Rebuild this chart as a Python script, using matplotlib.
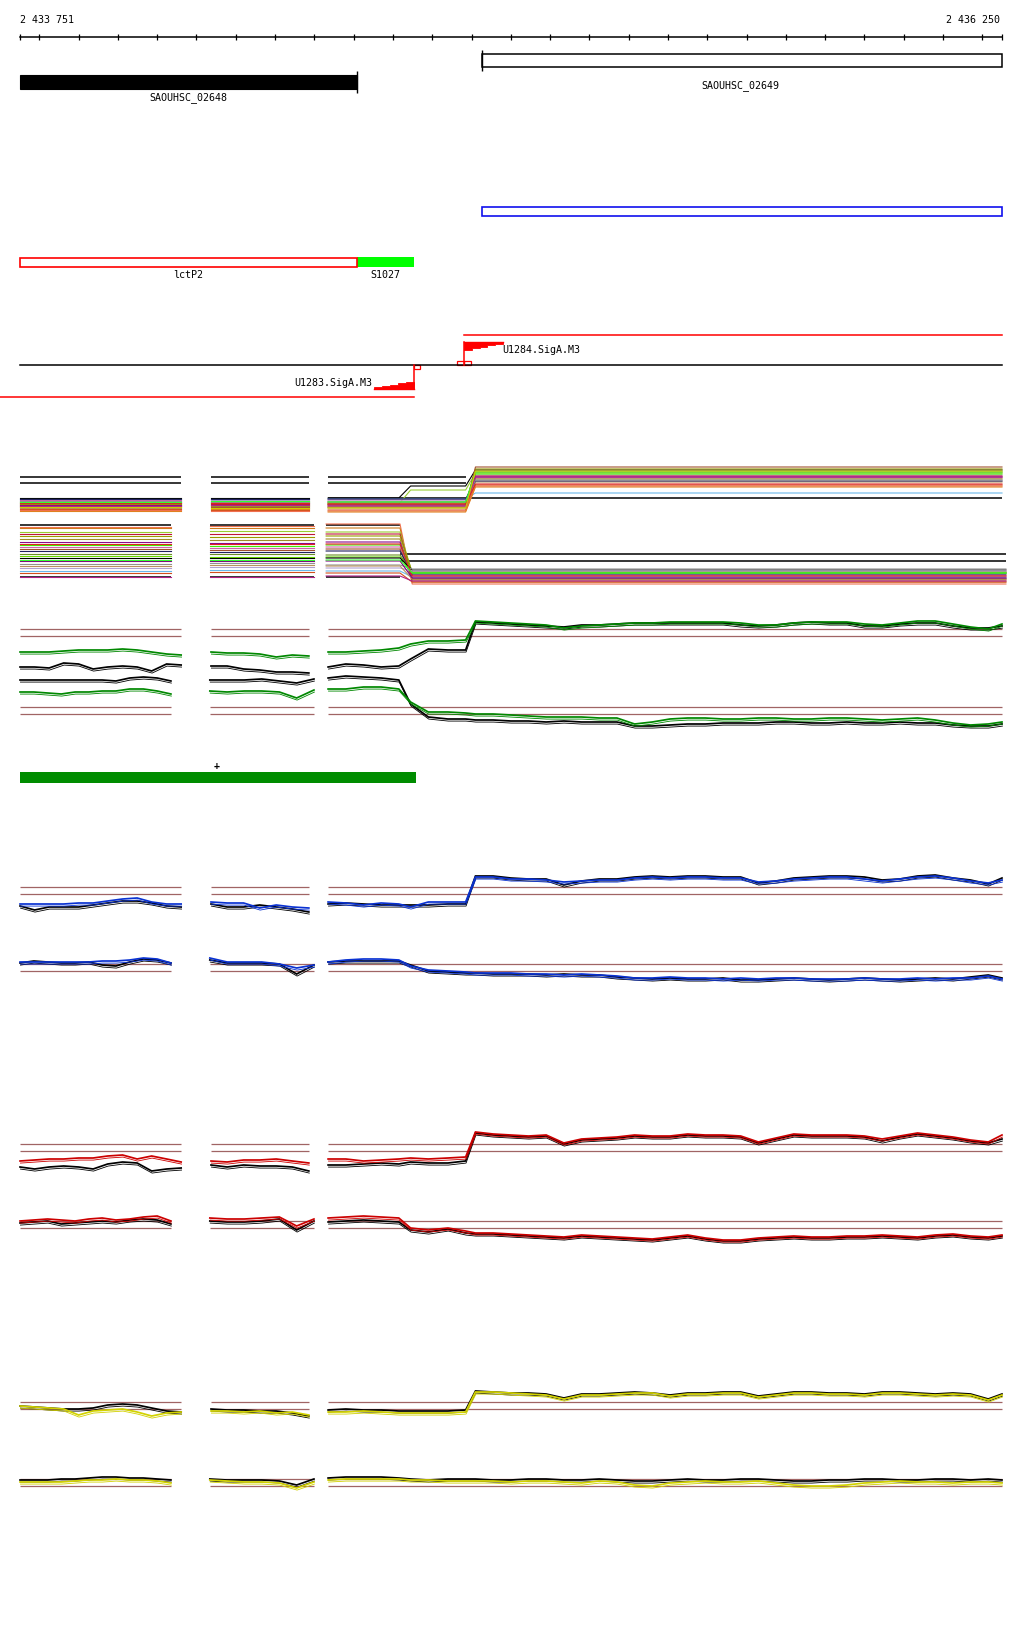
import numpy as np
import matplotlib
matplotlib.use("Agg")
import matplotlib.pyplot as plt
from matplotlib.patches import Rectangle, Polygon
import matplotlib.patheffects as pe

# ---------------------------------------------------------------- window
VIEW_START, VIEW_END = 2433751, 2436250
X_LEFT, X_RIGHT = 2433700, 2436306
TICK_STEP = 100

# ---------------------------------------------------------------- annotation
GENE_NAMES = ["SAOUHSC_02648", "SAOUHSC_02649"]
GENE_START = [2433751, 2434927]
GENE_END = [2434608, 2436250]
BLUE_FEATURE = (2434927, 2436250)
TRANSCRIPT_NAMES = ["lctP2", "S1027"]
TRANSCRIPT_START = [2433751, 2434608]
TRANSCRIPT_END = [2434608, 2434754]
PROMOTER_NAMES = ["U1283.SigA.M3", "U1284.SigA.M3"]
PROMOTER_POS = [2434754, 2434881]
PROMOTER_STRAND = [-1, 1]
SEGMENT_BAR = (2433751, 2434759)
SEGMENT_MARK = 2434250

# ---------------------------------------------------------------- probe positions
POS_A_UP = [2433751, 2433788, 2433825, 2433862, 2433900, 2433937, 2433974,
            2434012, 2434049, 2434086, 2434124, 2434161]
POS_A_DN = [2433751, 2433786, 2433821, 2433856, 2433891, 2433926, 2433960,
            2433995, 2434030, 2434065, 2434100, 2434135]
POS_B_UP = [2434237, 2434278, 2434320, 2434361, 2434403, 2434444, 2434486]
POS_B_DN = [2434234, 2434278, 2434322, 2434366, 2434411, 2434455, 2434499]
POS_C = [2434535, 2434580, 2434625, 2434670, 2434715, 2434745, 2434790,
         2434840, 2434885, 2434910, 2434955, 2435000, 2435045, 2435090,
         2435135, 2435180, 2435225, 2435270, 2435315, 2435360, 2435405,
         2435450, 2435495, 2435540, 2435585, 2435630, 2435675, 2435720,
         2435765, 2435810, 2435855, 2435900, 2435945, 2435990, 2436035,
         2436080, 2436125, 2436170, 2436215, 2436250]

# ---------------------------------------------------------------- condition tracks
# (segment A, segment B, segment C) per series
g_up_black = ([12, 12, 11, 16, 15, 10, 12, 13, 12, 8, 15, 14],
              [13, 13, 10, 9, 7, 7, 6],
              [12, 15, 14, 12, 13, 20, 30, 29, 29, 57, 56, 55, 54, 53, 52, 54, 54, 55, 56, 56,
               56, 56, 56, 56, 54, 53, 54, 56, 57, 56, 56, 53, 53, 55, 56, 56, 53, 51, 51, 53])
g_up_green = ([27, 27, 27, 28, 29, 29, 29, 30, 29, 27, 25, 24],
              [27, 26, 26, 25, 22, 24, 23],
              [27, 27, 28, 29, 31, 35, 38, 38, 39, 58, 57, 56, 55, 54, 51, 53, 54, 55, 56, 56,
               57, 57, 57, 57, 56, 54, 54, 56, 57, 57, 57, 55, 54, 56, 58, 58, 55, 52, 50, 55])
g_dn_black = ([64, 64, 64, 64, 64, 64, 64, 63, 66, 67, 66, 63],
              [64, 64, 64, 65, 63, 61, 65],
              [66, 68, 67, 66, 64, 40, 27, 25, 25, 24, 24, 23, 23, 22, 23, 22, 22, 22, 18, 18,
               19, 20, 20, 21, 21, 21, 22, 22, 21, 21, 22, 21, 21, 22, 21, 21, 19, 18, 18, 20])
g_dn_green = ([52, 52, 51, 50, 52, 52, 53, 53, 55, 55, 53, 50],
              [53, 52, 53, 53, 52, 46, 54],
              [55, 55, 57, 57, 55, 42, 32, 32, 31, 30, 30, 29, 28, 27, 27, 27, 26, 26, 20, 22,
               25, 26, 26, 25, 25, 26, 26, 25, 25, 26, 26, 25, 24, 25, 26, 24, 21, 19, 20, 22])
g_up_cut = [50, 43]
g_dn_cut = [37, 30]

b_up_black = ([28, 24, 27, 27, 27, 29, 31, 33, 33, 31, 28, 27],
              [30, 27, 27, 29, 27, 25, 22],
              [30, 31, 30, 29, 29, 29, 29, 30, 30, 58, 58, 56, 55, 55, 49, 53, 55, 55, 57, 58,
               57, 58, 58, 57, 57, 51, 53, 56, 57, 58, 58, 57, 54, 55, 58, 59, 56, 54, 50, 56])
b_up_blue = ([30, 30, 30, 30, 31, 31, 33, 35, 36, 32, 30, 30],
             [32, 31, 31, 26, 29, 27, 26],
             [32, 31, 29, 31, 30, 27, 32, 32, 32, 57, 57, 55, 55, 54, 52, 53, 54, 54, 56, 57,
              56, 57, 57, 56, 56, 52, 53, 55, 56, 57, 57, 55, 53, 55, 57, 58, 56, 53, 51, 54])
b_dn_black = ([36, 38, 37, 36, 36, 37, 34, 33, 37, 40, 39, 36],
              [39, 36, 36, 36, 35, 25, 34],
              [37, 38, 38, 38, 38, 34, 28, 27, 26, 26, 25, 25, 25, 24, 25, 24, 24, 22, 21, 20,
               21, 20, 20, 21, 19, 19, 20, 21, 20, 19, 20, 21, 20, 19, 20, 21, 20, 22, 24, 21])
b_dn_blue = ([37, 37, 37, 37, 37, 37, 38, 38, 39, 41, 40, 36],
             [41, 37, 37, 37, 35, 31, 34],
             [37, 39, 40, 40, 39, 33, 29, 28, 27, 26, 26, 26, 25, 25, 24, 25, 24, 23, 21, 21,
              22, 21, 21, 20, 21, 20, 21, 21, 20, 20, 20, 21, 20, 20, 21, 20, 21, 21, 23, 20])
b_up_cut = [47, 40]
b_dn_cut = [35, 28]

r_up_black = ([22, 20, 22, 23, 22, 20, 25, 27, 26, 18, 20, 21],
              [24, 22, 24, 23, 23, 22, 18],
              [24, 24, 25, 26, 25, 27, 26, 26, 28, 56, 54, 53, 52, 53, 45, 49, 50, 51, 53, 52,
               52, 54, 53, 53, 52, 46, 50, 54, 53, 53, 53, 52, 48, 52, 55, 53, 51, 48, 46, 50])
r_up_red = ([28, 29, 30, 30, 31, 31, 33, 34, 30, 33, 30, 27],
            [28, 27, 29, 29, 30, 28, 26],
            [30, 30, 28, 29, 30, 31, 30, 31, 32, 57, 55, 54, 53, 54, 46, 50, 51, 52, 54, 53,
             53, 55, 54, 54, 53, 47, 51, 55, 54, 54, 54, 53, 50, 53, 56, 54, 52, 49, 47, 54])
r_dn_black = ([31, 32, 33, 30, 31, 32, 33, 32, 34, 35, 34, 30],
              [33, 32, 32, 33, 35, 24, 33],
              [32, 33, 34, 33, 32, 24, 22, 25, 21, 20, 20, 19, 18, 17, 16, 18, 17, 16, 15, 14,
               16, 18, 15, 13, 13, 15, 16, 17, 16, 16, 17, 17, 18, 17, 16, 18, 19, 17, 16, 18])
r_dn_red = ([33, 34, 35, 34, 33, 35, 36, 34, 35, 37, 38, 33],
            [36, 35, 35, 36, 37, 28, 35],
            [36, 37, 38, 37, 36, 26, 24, 26, 23, 21, 21, 20, 19, 18, 17, 19, 18, 17, 16, 15,
             17, 19, 16, 14, 14, 16, 17, 18, 17, 17, 18, 18, 19, 18, 17, 19, 20, 18, 17, 19])
r_up_cut = [45, 38]
r_dn_cut = [33, 26]

y_up_black = ([28, 27, 26, 25, 25, 26, 29, 30, 29, 26, 23, 22],
              [25, 24, 24, 23, 23, 21, 18],
              [24, 25, 24, 24, 23, 23, 23, 23, 24, 43, 42, 41, 41, 40, 36, 40, 40, 41, 42, 41,
               39, 41, 41, 42, 42, 38, 40, 42, 42, 41, 41, 40, 42, 42, 41, 40, 41, 40, 35, 40])
y_up_yellow = ([28, 27, 26, 25, 19, 23, 24, 25, 22, 18, 21, 22],
               [23, 23, 22, 23, 21, 22, 19],
               [22, 22, 23, 22, 21, 21, 21, 21, 22, 42, 42, 41, 40, 39, 35, 39, 39, 40, 41, 41,
                38, 40, 40, 41, 41, 37, 39, 41, 41, 40, 40, 39, 41, 41, 40, 39, 40, 39, 34, 39])
y_dn_black = ([29, 29, 29, 30, 30, 31, 32, 32, 31, 31, 30, 29],
              [30, 29, 29, 29, 28, 24, 30],
              [31, 32, 32, 32, 31, 30, 29, 30, 30, 30, 29, 29, 30, 30, 29, 29, 30, 29, 28, 28,
               29, 30, 29, 29, 30, 30, 29, 28, 28, 29, 29, 30, 30, 29, 29, 30, 30, 29, 30, 29])
y_dn_yellow = ([27, 27, 27, 27, 28, 29, 29, 30, 29, 29, 28, 26],
               [29, 28, 27, 27, 26, 21, 27],
               [29, 30, 30, 30, 30, 29, 29, 28, 28, 28, 28, 27, 28, 28, 27, 26, 28, 27, 24, 23,
                26, 27, 28, 27, 27, 28, 26, 24, 23, 23, 24, 26, 27, 28, 27, 27, 26, 27, 27, 26])
y_up_cut = [32, 25]
y_dn_cut = [30, 23]

# many-condition overview track: levels per segment (A, B, C1, C2, C3)
MC_UP_COLORS = ["#000000", "#9acd32", "#6ab8ea", "#cc66aa", "#b0a0d0", "#44ee00",
                "#c0143c", "#9a9a00", "#cc7a1a", "#8b0a8b", "#a0522d", "#a08c28",
                "#b8905a", "#d2501e", "#f07050", "#202060", "#909090", "#b0208a",
                "#e08020", "#e02020", "#33ff33", "#cccc00"]
MC_UP_LEVELS = [[21, 21, 21, 33, 49], [15, 15, 15, 29, 46], [20, 20, 20, 20, 26],
                [19, 18, 19, 19, 41], [18, 19, 18, 18, 44], [17, 17, 17, 17, 45],
                [16, 15, 16, 16, 43], [15, 14, 15, 15, 50], [14, 13, 14, 14, 47],
                [14, 16, 14, 14, 42], [13, 12, 12, 12, 52], [12, 13, 12, 12, 40],
                [11, 11, 11, 11, 37], [10, 9, 9, 9, 34], [9, 8, 8, 8, 33],
                [20, 20, 20, 20, 38], [18, 17, 17, 17, 39], [13, 14, 13, 13, 42],
                [8, 10, 7, 7, 32], [16, 16, 15, 15, 35], [17, 18, 17, 17, 47],
                [12, 11, 11, 11, 48]]
MC_UP_CUT = [42, 36]
MC_UP_BASE = 21
MC_UP_BREAKS = [2434535, 2434715, 2434745, 2434885, 2434910, 2436250]

MC_DN_COLORS = ["#f07050", "#cc7a1a", "#9acd32", "#c0143c", "#9a9a00", "#a08c28",
                "#8b0a8b", "#44ee00", "#cc66aa", "#a0522d", "#202060", "#6b8e23",
                "#66dd00", "#000000", "#909090", "#b0a0d0", "#6ab8ea", "#b8905a",
                "#d2501e", "#b0208a", "#800080", "#e02020", "#33ff33"]
MC_DN_LEVELS = [[64, 65, 67, 7], [63, 63, 63, 9], [59, 60, 59, 18], [57, 57, 57, 15],
                [55, 54, 55, 19], [52, 51, 52, 12], [49, 48, 49, 13], [46, 45, 46, 18],
                [44, 43, 44, 16], [42, 41, 42, 11], [40, 39, 40, 17], [37, 37, 36, 19],
                [35, 34, 34, 18], [33, 33, 33, 21], [27, 28, 26, 22], [23, 24, 23, 20],
                [20, 21, 20, 14], [25, 26, 25, 12], [18, 19, 18, 9], [14, 14, 15, 10],
                [30, 30, 30, 13], [47, 47, 47, 15], [31, 31, 31, 18]]
MC_DN_CUT = [66, 14]
MC_DN_CUT_C = [37, 30]
MC_DN_BREAKS = [2434530, 2434718, 2434749, 2436260]

# ---------------------------------------------------------------- style
W, H, DPI = 1024, 1640, 100
FONT = dict(family="DejaVu Sans Mono", fontsize=7.2, color="black")
CUT_COLOR = "#a06464"
BP_PER_PX = (X_RIGHT - X_LEFT) / W

fig = plt.figure(figsize=(W / DPI, H / DPI), dpi=DPI)
fig.patch.set_facecolor("white")

ax = fig.add_axes([0, 0, 1, 1])
ax.set_xlim(X_LEFT, X_RIGHT)
ax.set_ylim(H, 0)
ax.axis("off")

# ruler
ax.plot([VIEW_START, VIEW_END], [38, 38], color="black", lw=1.1)
ticks = [VIEW_START] + list(range((VIEW_START // TICK_STEP + 1) * TICK_STEP, VIEW_END, TICK_STEP)) + [VIEW_END]
ax.vlines(ticks, 35, 41, color="black", lw=0.9)
ax.text(VIEW_START, 20, f"{VIEW_START:,}".replace(",", " "), ha="left", va="center", **FONT)
ax.text(VIEW_END - 2 * BP_PER_PX, 20, f"{VIEW_END:,}".replace(",", " "), ha="right", va="center", **FONT)

# genes
g0s, g0e = GENE_START[0], GENE_END[0]
ax.add_patch(Rectangle((g0s, 76), g0e - g0s, 14, facecolor="black", edgecolor="black", lw=0.8))
ax.vlines(g0e, 72, 94, color="black", lw=1)
ax.text((g0s + g0e) / 2, 97.5, GENE_NAMES[0], ha="center", va="center", **FONT)
g1s, g1e = GENE_START[1], GENE_END[1]
ax.add_patch(Rectangle((g1s, 55), g1e - g1s, 13, facecolor="white", edgecolor="black", lw=1.1))
ax.vlines(g1s, 51, 72, color="black", lw=1)
ax.text(g1s + 0.5 * (VIEW_END - g1s) - 2 * BP_PER_PX, 85.5, GENE_NAMES[1], ha="center", va="center", **FONT)

# blue feature
ax.add_patch(Rectangle((BLUE_FEATURE[0], 208), BLUE_FEATURE[1] - BLUE_FEATURE[0], 9,
                       facecolor="none", edgecolor="#1010ee", lw=1.2))

# transcripts
t0s, t0e = TRANSCRIPT_START[0], TRANSCRIPT_END[0]
t1s, t1e = TRANSCRIPT_START[1], TRANSCRIPT_END[1]
ax.add_patch(Rectangle((t1s, 258), t1e - t1s, 10, facecolor="#00ff00", edgecolor="none"))
ax.add_patch(Rectangle((t0s, 258.5), t0e - t0s, 9.5, facecolor="white", edgecolor="#ff0000", lw=1.2))
ax.text((t0s + t0e) / 2, 275.5, TRANSCRIPT_NAMES[0], ha="center", va="center", **FONT)
ax.text((t1s + t1e) / 2, 275.5, TRANSCRIPT_NAMES[1], ha="center", va="center", **FONT)

# promoter row
ax.plot([VIEW_START, VIEW_END], [366, 366], color="black", lw=1.1)
RED = "#ff0000"


def stair_flag(x0, direction, flat_y, sign, length_px=39, height_px=7, n=5):
    """Stepped wedge: tallest next to the stem, tapering away from it."""
    pts = [(x0, flat_y)]
    for i in range(n):
        h = height_px * (n - i) / n
        xa = x0 + direction * i * length_px / n * BP_PER_PX
        xb = x0 + direction * (i + 1) * length_px / n * BP_PER_PX
        pts += [(xa, flat_y + sign * h), (xb, flat_y + sign * h)]
    pts.append((x0 + direction * length_px * BP_PER_PX, flat_y))
    ax.add_patch(Polygon(pts, closed=True, facecolor=RED, edgecolor=RED, lw=0.6))
    ax.plot([x0, x0 + direction * length_px * BP_PER_PX], [flat_y, flat_y], color=RED, lw=1)


for name, pos, strand in zip(PROMOTER_NAMES, PROMOTER_POS, PROMOTER_STRAND):
    if strand < 0:
        ax.plot([pos, pos], [366, 389.5], color=RED, lw=1.1)
        stair_flag(pos, -1, 389.5, -1, length_px=40, height_px=6.5)
        ax.add_patch(Rectangle((pos - 0.5 * BP_PER_PX, 366), 6 * BP_PER_PX, 4,
                               facecolor="none", edgecolor=RED, lw=0.9))
        ax.plot([X_LEFT, pos], [397.5, 397.5], color=RED, lw=1.1)
        ax.text(pos - 41.5 * BP_PER_PX, 383, name, ha="right", va="center", **FONT)
    else:
        ax.plot([pos, pos], [343, 366], color=RED, lw=1.1)
        stair_flag(pos, 1, 343, 1, length_px=39, height_px=8)
        ax.add_patch(Rectangle((pos - 7.5 * BP_PER_PX, 362), 7.5 * BP_PER_PX, 4,
                               facecolor="none", edgecolor=RED, lw=0.9))
        ax.add_patch(Rectangle((pos, 362), 7 * BP_PER_PX, 4,
                               facecolor="none", edgecolor=RED, lw=0.9))
        ax.plot([pos, VIEW_END], [336, 336], color=RED, lw=1.1)
        ax.text(pos + 38 * BP_PER_PX, 350, name, ha="left", va="center", **FONT)

# segment bar
ax.add_patch(Rectangle((SEGMENT_BAR[0], 773), SEGMENT_BAR[1] - SEGMENT_BAR[0], 11,
                       facecolor="#008c00", edgecolor="none"))
ax.text(SEGMENT_MARK, 766, "+", ha="center", va="center", family="DejaVu Sans Mono",
        fontsize=7, fontweight="bold")


# ---------------------------------------------------------------- tracks
def strand_axes(top, bottom):
    a = fig.add_axes([0, 1 - bottom / H, 1, (bottom - top) / H])
    a.set_xlim(X_LEFT, X_RIGHT)
    a.set_ylim(0, bottom - top)
    a.axis("off")
    a.patch.set_alpha(0)
    return a


def extents(positions):
    return [(p[0], p[-1]) for p in positions]


def draw_cuts(a, cuts, spans):
    for lo, hi in spans:
        a.hlines(cuts, lo, hi, color=CUT_COLOR, lw=0.9)


def draw_series(a, positions, segs, color):
    for pos, vals in zip(positions, segs):
        a.plot(pos, vals, color=color, lw=1.25, solid_joinstyle="miter", clip_on=False,
               path_effects=[pe.SimpleLineShadow(offset=(0.3, -1.5), shadow_color=color,
                                                 alpha=1.0, linewidth=0.6),
                             pe.Normal()])


UP_POS = [POS_A_UP, POS_B_UP, POS_C]
DN_POS = [POS_A_DN, POS_B_DN, POS_C]

panels = [
    ((600, 680), (665, 745), g_up_cut, g_dn_cut, g_up_black, g_up_green, g_dn_black, g_dn_green, "#008800"),
    ((855, 935), (935, 1000), b_up_cut, b_dn_cut, b_up_black, b_up_blue, b_dn_black, b_dn_blue, "#0a32d2"),
    ((1110, 1190), (1190, 1255), r_up_cut, r_dn_cut, r_up_black, r_up_red, r_dn_black, r_dn_red, "#cc0000"),
    ((1365, 1435), (1450, 1510), y_up_cut, y_dn_cut, y_up_black, y_up_yellow, y_dn_black, y_dn_yellow, "#d2d200"),
]

for up_box, dn_box, up_cut, dn_cut, up_k, up_c, dn_k, dn_c, col in panels:
    au = strand_axes(*up_box)
    draw_cuts(au, up_cut, extents(UP_POS))
    draw_series(au, UP_POS, up_k, "black")
    draw_series(au, UP_POS, up_c, col)
    ad = strand_axes(*dn_box)
    draw_cuts(ad, dn_cut, extents(DN_POS))
    draw_series(ad, DN_POS, dn_k, "black")
    draw_series(ad, DN_POS, dn_c, col)

MC_LW = 0.8

# overview track, forward strand
mu = strand_axes(455, 520)
for lo, hi in extents(UP_POS[:2]):
    mu.hlines(MC_UP_CUT, lo, hi, color="black", lw=1.1)
mu.hlines(MC_UP_CUT, MC_UP_BREAKS[0], MC_UP_BREAKS[3], color="black", lw=1.1)
mu.hlines(MC_UP_BASE, MC_UP_BREAKS[0], MC_UP_BREAKS[-1], color="black", lw=1.1)
for colr, lv in zip(MC_UP_COLORS, MC_UP_LEVELS):
    mu.plot([POS_A_UP[0], POS_A_UP[-1]], [lv[0], lv[0]], color=colr, lw=MC_LW)
    mu.plot([POS_B_UP[0], POS_B_UP[-1]], [lv[1], lv[1]], color=colr, lw=MC_LW)
    b = MC_UP_BREAKS
    mu.plot(b, [lv[2], lv[2], lv[3], lv[3], lv[4], lv[4]], color=colr, lw=MC_LW)

# overview track, reverse strand
md = strand_axes(520, 592)
for lo, hi in extents(DN_POS[:2]):
    md.hlines(MC_DN_CUT, lo, hi, color="black", lw=1.1)
md.hlines(MC_DN_CUT, MC_DN_BREAKS[0], MC_DN_BREAKS[1], color="black", lw=1.1)
md.hlines(MC_DN_CUT_C, MC_DN_BREAKS[1], MC_DN_BREAKS[-1], color="black", lw=1.1)
for colr, lv in zip(MC_DN_COLORS, MC_DN_LEVELS):
    md.plot([POS_A_DN[0], POS_A_DN[-1]], [lv[0], lv[0]], color=colr, lw=MC_LW)
    md.plot([POS_B_DN[0], POS_B_DN[-1]], [lv[1], lv[1]], color=colr, lw=MC_LW)
    b = MC_DN_BREAKS
    md.plot(b, [lv[2], lv[2], lv[3], lv[3]], color=colr, lw=MC_LW)

fig.savefig("out.png", dpi=DPI, facecolor="white")
